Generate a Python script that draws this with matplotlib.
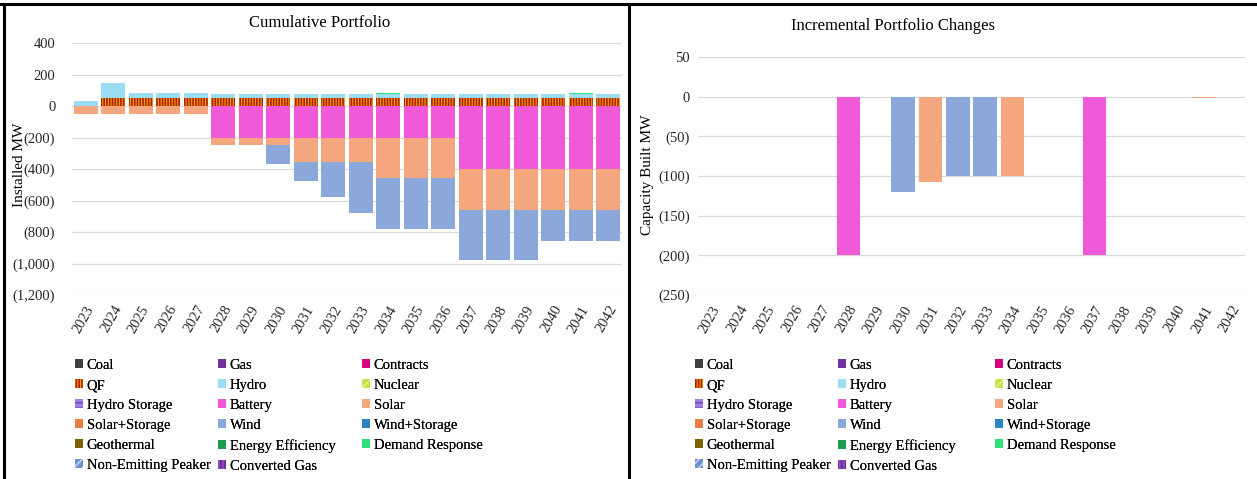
import matplotlib
matplotlib.use("Agg")
import matplotlib.pyplot as plt
import numpy as np
from matplotlib.patches import Patch
from matplotlib.lines import Line2D
from matplotlib.ticker import FuncFormatter

plt.rcParams['font.family'] = ['Liberation Serif', 'DejaVu Serif']
plt.rcParams['hatch.linewidth'] = 1.2

years = [str(y) for y in range(2023, 2043)]

resources = ["Coal", "Gas", "Contracts", "QF", "Hydro", "Nuclear", "Hydro Storage",
             "Battery", "Solar", "Solar+Storage", "Wind", "Wind+Storage", "Geothermal",
             "Energy Efficiency", "Demand Response", "Non-Emitting Peaker", "Converted Gas"]

colors = {"Coal": "#404040", "Gas": "#7030A0", "Contracts": "#D6007E", "QF": "#F0A30A",
          "Hydro": "#9ADDF5", "Nuclear": "#C5E04A", "Hydro Storage": "#9F7FE0",
          "Battery": "#F05AD8", "Solar": "#F4A77E", "Solar+Storage": "#E87D45",
          "Wind": "#8AA8DA", "Wind+Storage": "#2A84C0", "Geothermal": "#7F6000",
          "Energy Efficiency": "#1E9B4F", "Demand Response": "#30E07A",
          "Non-Emitting Peaker": "#6F8FCC", "Converted Gas": "#7030A0"}
hatches = {"QF": ("||||||", "#B02000"), "Nuclear": ("////", "#E8F080"),
           "Hydro Storage": ("---", "#7050C0"), "Non-Emitting Peaker": ("////", "#C0D0F0"),
           "Converted Gas": ("||||", "#9050C0")}

# Cumulative portfolio (MW)
cum_qf = [0] + [50] * 19
cum_hydro = [30, 95, 31, 31, 31, 29, 29, 29] + [25] * 12
cum_battery = [0] * 5 + [-200] * 9 + [-400] * 6
cum_solar = [-50] * 8 + [-158] * 3 + [-258] * 9
cum_wind = [0] * 7 + [-120, -120, -220, -320] + [-320] * 6 + [-200] * 3
cum_dr = [0] * 11 + [6] + [0] * 6 + [6, 0]

# Incremental portfolio changes (MW)
inc_battery = [0] * 5 + [-200] + [0] * 8 + [-200] + [0] * 5
inc_solar = [0] * 8 + [-108, 0, 0, -100] + [0] * 6 + [-1.5, 0]
inc_wind = [-0.8] + [0] * 6 + [-120, 0, -100, -100] + [0] * 9

cum_data = {"QF": cum_qf, "Hydro": cum_hydro, "Battery": cum_battery,
            "Solar": cum_solar, "Wind": cum_wind, "Demand Response": cum_dr}
inc_data = {"Battery": inc_battery, "Solar": inc_solar, "Wind": inc_wind}

W, H = 1257, 479
fig = plt.figure(figsize=(W / 100, H / 100), dpi=100)


def paren_fmt(v, pos):
    if abs(v) < 1e-9:
        return "0"
    s = "{:,.0f}".format(abs(v))
    return "({})".format(s) if v < 0 else s


def draw(ax, data, width, ypad):
    x = np.arange(len(years))
    pos = np.zeros(len(years))
    neg = np.zeros(len(years))
    for r in resources:
        if r not in data:
            continue
        vals = np.array(data[r], dtype=float)
        bottoms = np.where(vals >= 0, pos, neg)
        kw = dict(color=colors[r], width=width, linewidth=0, zorder=3)
        if r in hatches:
            kw.update(hatch=hatches[r][0], edgecolor=hatches[r][1])
        ax.bar(x, vals, bottom=bottoms, **kw)
        pos = pos + np.where(vals >= 0, vals, 0)
        neg = neg + np.where(vals < 0, vals, 0)
    ax.set_xlim(-0.5, len(years) - 0.5)
    ax.set_xticks(x)
    ax.set_xticklabels(years, rotation=60, ha='right', rotation_mode='anchor',
                       fontsize=10.5, color='#262626')
    ax.yaxis.set_major_formatter(FuncFormatter(paren_fmt))
    ax.tick_params(axis='both', length=0, labelsize=10.5, labelcolor='#262626')
    ax.tick_params(axis='x', pad=6)
    ax.tick_params(axis='y', pad=ypad)
    for s in ax.spines.values():
        s.set_visible(False)
    ax.grid(axis='y', color='#D9D9D9', linewidth=0.9, zorder=0)
    ax.set_axisbelow(True)


axL = fig.add_axes([72 / W, 1 - 295 / H, 550 / W, 252 / H])
draw(axL, cum_data, 0.86, 12)
axL.set_ylim(-1200, 400)
axL.set_yticks(np.arange(-1200, 401, 200))

axR = fig.add_axes([698 / W, 1 - 295 / H, 547 / W, 238 / H])
draw(axR, inc_data, 0.86, 6)
axR.set_ylim(-250, 50)
axR.set_yticks(np.arange(-250, 51, 50))

fig.text(320 / W, 1 - 23 / H, "Cumulative Portfolio", ha='center', va='center', fontsize=12)
fig.text(893 / W, 1 - 26 / H, "Incremental Portfolio Changes", ha='center', va='center', fontsize=12)
fig.text(20 / W, 1 - 165 / H, "Installed MW", rotation=90, ha='center', va='center', fontsize=11)
fig.text(647 / W, 1 - 175 / H, "Capacity Built MW", rotation=90, ha='center', va='center', fontsize=11)


def handle(r):
    kw = dict(facecolor=colors[r], linewidth=0)
    if r in hatches:
        kw.update(hatch=hatches[r][0], edgecolor=hatches[r][1])
    return Patch(**kw)


cols = [resources[0::3], resources[1::3], resources[2::3]]


def add_legend(xs):
    for cx, names in zip(xs, cols):
        leg = fig.legend([handle(r) for r in names], names, loc='upper left',
                         bbox_to_anchor=(cx / W, 1 - 359 / H), frameon=False,
                         fontsize=10.5, handlelength=0.55, handleheight=0.55,
                         handletextpad=0.25, labelspacing=0.48, borderpad=0,
                         borderaxespad=0)
        fig.add_artist(leg)


add_legend([75, 218, 362])
add_legend([695, 838, 995])

# panel borders
for (x0, y0, x1, y1) in [(0, 4, W, 4), (4, 4, 4, H), (629, 4, 629, H)]:
    fig.add_artist(Line2D([x0 / W, x1 / W], [1 - y0 / H, 1 - y1 / H],
                          color='black', linewidth=2.2, transform=fig.transFigure))

fig.savefig("out.png", dpi=100)
